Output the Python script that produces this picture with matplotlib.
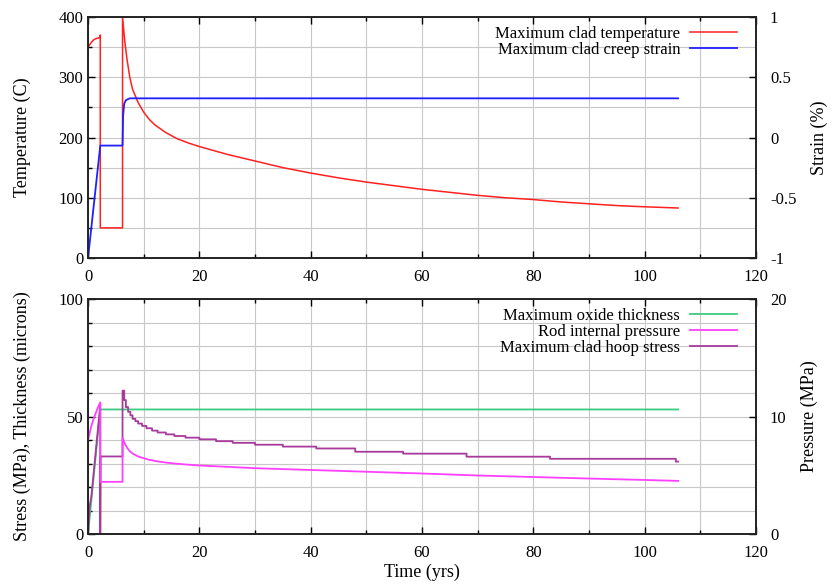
import numpy as np
import matplotlib
matplotlib.use('Agg')
import matplotlib.pyplot as plt
from matplotlib.ticker import MultipleLocator

plt.rcParams['font.family'] = ['Liberation Serif', 'DejaVu Serif']
plt.rcParams['font.size'] = 12

# Temperatura maxima do revestimento (C)
t_temp = [0, 0.3, 0.6, 1.0, 1.4, 1.8, 2.1, 2.2, 2.2, 6.2, 6.2, 6.6, 7.0, 7.5, 8, 9, 10, 11, 12, 14, 16, 18, 20,
          25, 30, 35, 40, 45, 50, 55, 60, 65, 70, 75, 80, 85, 90, 95, 100, 106]
temp = [350, 354, 358, 362, 364, 365, 366, 370, 50, 50, 400, 360, 330, 300, 280, 258, 242, 230, 221, 208, 198, 191, 185,
        172, 161, 150, 141, 133, 126, 120, 114, 109, 104, 100, 97, 93, 90, 87, 85, 83]

# Deformacao por fluencia (%)
t_strain = [0, 2.2, 6.2, 6.3, 6.5, 6.8, 7.5, 106]
strain = [-1.0, -0.067, -0.067, 0.18, 0.28, 0.31, 0.325, 0.325]

# Espessura de oxido (microns)
t_oxide = [0, 2.2, 106]
oxide = [0, 53, 53]

# Pressao interna da vareta (MPa)
t_press = [0, 0.3, 0.6, 1.0, 1.4, 1.8, 2.2, 2.2, 6.2, 6.2, 6.6, 7, 7.5, 8, 9, 10, 11, 12, 14, 16, 18, 20,
           25, 30, 40, 50, 60, 70, 80, 90, 100, 106]
press = [8.0, 8.6, 9.2, 9.8, 10.3, 10.8, 11.2, 4.44, 4.44, 8.2, 7.7, 7.35, 7.05, 6.85, 6.6, 6.45, 6.32, 6.22, 6.08, 5.98, 5.9, 5.83,
         5.72, 5.6, 5.45, 5.3, 5.15, 4.98, 4.85, 4.72, 4.6, 4.52]

# Tensao circunferencial (MPa): subida inicial e degraus depois do pico
t_hoop_start = [0, 0.3, 0.6, 2.2, 2.2, 2.25, 6.2]
hoop_start = [0, 12, 16, 55, 0, 33, 33]
t_hoop_steps = [6.2, 6.5, 6.8, 7.2, 7.6, 8.0, 8.5, 9.0, 9.7, 10.5, 11.5, 12.5, 14, 15.5, 17.5, 20, 23, 26, 30, 35, 41, 48,
                56.6, 68, 83, 105.6]
hoop_steps = [61, 57, 54, 52, 50.5, 49, 48, 47, 46, 45, 44, 43.2, 42.4, 41.7, 41, 40.3, 39.5, 38.8, 38, 37.2, 36.4, 35.0,
              34.2, 32.9, 32.0, 30.8]
t_end = 106

# monta a escada da tensao
ts = np.repeat(t_hoop_steps, 2)[1:]
vs = np.repeat(hoop_steps, 2)[:-1]
t_hoop = np.concatenate([t_hoop_start, ts, [t_end]])
hoop = np.concatenate([hoop_start, vs, [hoop_steps[-1]]])

fig = plt.figure(figsize=(8.4, 5.84), dpi=100)
ax1 = fig.add_axes([0.1048, 0.5582, 0.7952, 0.4127])
ax2 = fig.add_axes([0.1048, 0.0856, 0.7952, 0.4024])


def estilo(ax, axr):
    ax.set_xlim(0, 120)
    ax.xaxis.set_major_locator(MultipleLocator(20))
    ax.xaxis.set_minor_locator(MultipleLocator(10))
    ax.grid(True, which='both', color='#c8c8c8', lw=0.8)
    ax.set_axisbelow(True)
    ax.tick_params(which='both', direction='in', top=True, labelsize=12)
    ax.tick_params(which='major', length=5, width=1)
    ax.tick_params(which='minor', length=3, width=1)
    ax.tick_params(axis='x', pad=8)
    axr.tick_params(which='both', direction='in', labelsize=12, pad=10)
    axr.tick_params(which='major', length=5, width=1)
    for a in (ax, axr):
        for s in a.spines.values():
            s.set_linewidth(1.2)
            s.set_color('#222222')


leg_kw = dict(loc='upper right', bbox_to_anchor=(0.985, 1.0), frameon=False, markerfirst=False,
              handlelength=2.8, labelspacing=0.0, borderaxespad=0.15, fontsize=12, handletextpad=0.6)

# grafico de cima
ax1r = ax1.twinx()
ax1.set_ylim(0, 400)
ax1.yaxis.set_major_locator(MultipleLocator(100))
ax1.yaxis.set_minor_locator(MultipleLocator(50))
ax1r.set_ylim(-1, 1)
ax1r.set_yticks([-1, -0.5, 0, 0.5, 1])
ax1r.set_yticklabels(['-1', '-0.5', '0', '0.5', '1'])
estilo(ax1, ax1r)
l1, = ax1.plot(t_temp, temp, color='#ff2020', lw=1.1, label='Maximum clad temperature')
l2, = ax1r.plot(t_strain, strain, color='#2020ff', lw=1.3, label='Maximum clad creep strain')
ax1.set_ylabel('Temperature (C)', fontsize=13, labelpad=20)
ax1r.set_ylabel('Strain (%)', fontsize=13, labelpad=10)
ax1r.legend([l1, l2], [l1.get_label(), l2.get_label()], **leg_kw)

# grafico de baixo
ax2r = ax2.twinx()
ax2.set_ylim(0, 100)
ax2.yaxis.set_major_locator(MultipleLocator(50))
ax2.yaxis.set_minor_locator(MultipleLocator(10))
ax2r.set_ylim(0, 20)
ax2r.yaxis.set_major_locator(MultipleLocator(10))
estilo(ax2, ax2r)
l3, = ax2.plot(t_oxide, oxide, color='#3ccc80', lw=1.3, label='Maximum oxide thickness')
l4, = ax2r.plot(t_press, press, color='#ff40ff', lw=1.3, label='Rod internal pressure')
l5, = ax2.plot(t_hoop, hoop, color='#a83a9c', lw=1.3, label='Maximum clad hoop stress')
ax2.set_ylabel('Stress (MPa), Thickness (microns)', fontsize=13, labelpad=20)
ax2r.set_ylabel('Pressure (MPa)', fontsize=13, labelpad=10)
ax2.set_xlabel('Time (yrs)', fontsize=13, labelpad=2)
ax2r.legend([l3, l4, l5], [l3.get_label(), l4.get_label(), l5.get_label()], **leg_kw)

fig.savefig('out.png', dpi=100)
